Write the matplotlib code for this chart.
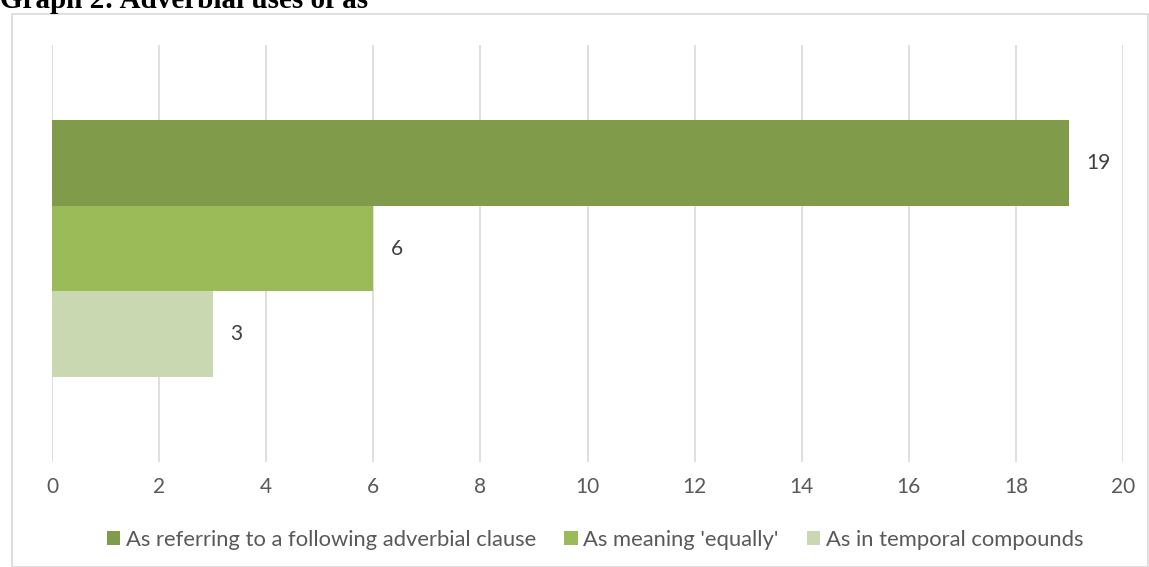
import matplotlib.pyplot as plt
from matplotlib.patches import Rectangle

series = ["As referring to a following adverbial clause", "As meaning 'equally'", "As in temporal compounds"]
values = [19, 6, 3]
colors = ["#809C4A", "#9BBB59", "#C9D8B0"]
xticks = list(range(0, 21, 2))

W, H = 1149, 567
fig = plt.figure(figsize=(W / 100, H / 100), dpi=100)
plt.rcParams['font.family'] = ['Lato', 'DejaVu Sans']

# outer chart border
fig.patches.append(Rectangle((12 / W, 0), (W - 13) / W, 1 - 14 / H, transform=fig.transFigure,
                             fill=False, edgecolor='#d9d9d9', linewidth=1.2))
fig.text(0.0, 1 - 8 / H, "Graph 2: Adverbial uses of as", family='Liberation Serif',
         fontweight='bold', fontsize=21, va='baseline', ha='left')

ax = fig.add_axes([52 / W, 1 - 462 / H, (1123 - 52) / W, (462 - 45) / H])
for i, (v, c) in enumerate(zip(values, colors)):
    ax.barh(i, v, height=1.0, color=c, label=series[i], zorder=2)
    ax.text(v + 0.32, i, str(v), va='center', ha='left', fontsize=15, color='#404040')

ax.set_xlim(0, 20)
ax.set_ylim(3.49, -1.375)
ax.set_xticks(xticks)
ax.set_yticks([])
ax.grid(axis='x', color='#d9d9d9', linewidth=1.2, zorder=0)
for s in ax.spines.values():
    s.set_visible(False)
ax.tick_params(axis='x', length=0, labelsize=15, labelcolor='#595959', pad=11)

ax.legend(loc='upper center', bbox_to_anchor=(0.507, -0.115), ncol=3, frameon=False,
          fontsize=15.8, handlelength=0.6, handleheight=0.6, handletextpad=0.25,
          columnspacing=1.3, labelcolor='#595959')

fig.savefig('out.png', dpi=100)
